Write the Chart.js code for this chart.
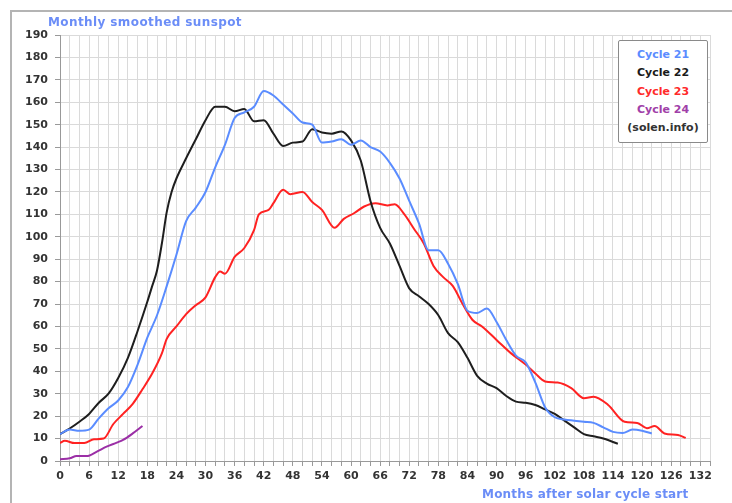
<!DOCTYPE html>
<html>
<head>
<meta charset="utf-8">
<script src="https://cdn.jsdelivr.net/npm/chart.js@4.4.0/dist/chart.umd.min.js"></script>
<style>
  body { margin: 0; background: #fff; }
  #wrap { position: relative; width: 732px; height: 503px; overflow: hidden; }
  #frame { position: absolute; left: 10px; top: 10px; width: 760px; height: 540px;
    border-left: 2px solid #b4b4b4; border-top: 2px solid #b4b4b4; }
  #myChart { position: absolute; left: 0; top: 0; }
  .txt { position: absolute; font-family: "DejaVu Sans", sans-serif; font-weight: bold; white-space: nowrap; }
  #title { left: 48px; top: 15px; font-size: 12px; color: #6b8df7; letter-spacing: 0.4px; }
  #xtitle { left: 482px; top: 487px; font-size: 12px; color: #6b8df7; letter-spacing: 0.2px; }
  #legend { position: absolute; left: 618px; top: 40px; width: 90px; height: 103px;
    border: 1px solid #8a8a8a; border-radius: 2px; background: #fff;
    font-family: "DejaVu Sans", sans-serif; font-weight: bold; font-size: 11px;
    text-align: center; padding-top: 5px; box-sizing: border-box; line-height: 18.3px; }
</style>
</head>
<body>
<div id="wrap">
  <div id="frame"></div>
  <canvas id="myChart" width="732" height="503"></canvas>
  <div class="txt" id="title">Monthly smoothed sunspot</div>
  <div class="txt" id="xtitle">Months after solar cycle start</div>
  <div id="legend">
    <div style="color:#5a8cff">Cycle 21</div>
    <div style="color:#1a1a1a">Cycle 22</div>
    <div style="color:#ff2a2a">Cycle 23</div>
    <div style="color:#a040a8">Cycle 24</div>
    <div style="color:#333">(solen.info)</div>
  </div>
</div>
<script>
// months after cycle start / smoothed sunspot number
const months21 = [0, 2, 4, 6, 8, 10, 12, 14, 16, 18, 20, 22, 24, 26, 28, 30, 32, 34, 36, 38, 40, 42, 44, 46, 48, 50, 52, 54, 56, 58, 60, 62, 64, 66, 68, 70, 72, 74, 76, 78, 80, 82, 84, 86, 88, 90, 92, 94, 96, 98, 100, 102, 104, 106, 108, 110, 112, 114, 116, 118, 120, 122];
const cycle21 = [12, 14, 13.5, 14, 19, 23.5, 27, 33, 43, 55, 65, 78, 92, 107, 113, 120, 131, 141, 153, 155.5, 158, 165, 163, 159, 155, 151, 150, 142, 142.5, 143.5, 141, 143, 140, 138, 133, 126, 116, 106, 94, 94, 88, 79, 67, 66, 68, 62, 54, 47, 44, 35, 24, 19.5, 18.5, 18, 17.5, 17, 15, 13, 12.5, 14, 13.5, 12.3];

const months22 = [0, 2, 4, 6, 8, 10, 12, 14, 16, 18, 19, 20, 21, 22, 23, 24, 26, 28, 30, 32, 34, 36, 38, 40, 42, 44, 46, 48, 50, 52, 54, 56, 58, 60, 62, 64, 66, 68, 70, 72, 74, 76, 78, 80, 82, 84, 86, 88, 90, 92, 94, 96, 98, 100, 102, 104, 106, 108, 110, 112, 115];
const cycle22 = [12, 14.5, 17.5, 21, 26, 30, 37, 46, 58, 71, 78, 85, 97, 111, 120, 126, 135, 143.5, 152, 158, 158, 156, 157, 151.5, 152, 146, 140.5, 142, 142.5, 148, 146.5, 146, 147, 143, 134, 116, 104, 97, 87, 77, 73.5, 70, 65, 57, 53, 46, 38, 34.5, 32.5, 29, 26.5, 26, 25, 23, 21, 18, 15, 12, 11, 10, 7.7];

const months23 = [0, 1, 3, 5, 7, 9, 11, 13, 15, 17, 19, 21, 22, 24, 26, 28, 30, 32, 33, 34, 36, 38, 40, 41, 43, 44, 46, 47.5, 50, 52, 54, 56.6, 58.5, 60.6, 62.7, 65, 67.5, 69, 71, 73, 75, 77, 79, 81, 83, 85, 87, 90, 93, 96, 98, 100, 102.6, 105.4, 108, 110, 113, 116.4, 119, 121, 122.6, 124.6, 127.4, 129];
const cycle23 = [8, 9, 8, 8, 9.7, 10, 16.5, 21, 25.5, 32, 39, 48, 54.5, 60, 65.5, 69.5, 73, 82, 84.5, 83.5, 91, 95, 103, 110, 112, 115, 121, 119, 120, 115.5, 112, 104, 108, 110.5, 113.5, 115, 114, 114.5, 110, 103.5, 97, 87, 82, 78, 70, 63, 60, 54, 48, 43, 39, 35.5, 35, 32.5, 28, 28.7, 25, 17.5, 17, 14.6, 15.6, 12.3, 11.6, 10.3];

const months24 = [0, 2, 3.4, 5.5, 7.6, 9.6, 11.7, 13, 15, 17];
const cycle24 = [0.8, 1.2, 2.2, 2.2, 4.2, 6.4, 8.2, 9.4, 12.3, 15.6];

const xTickEvery = 6;

const toPoints = (xs, ys) => xs.map((x, i) => ({ x: x, y: ys[i] }));

const series = [
  { label: "Cycle 21", data: toPoints(months21, cycle21), color: "#5a8cff" },
  { label: "Cycle 22", data: toPoints(months22, cycle22), color: "#1e1e1e" },
  { label: "Cycle 23", data: toPoints(months23, cycle23), color: "#ff2222" },
  { label: "Cycle 24", data: toPoints(months24, cycle24), color: "#9b2fa6" },
];

const tickFont = { family: "DejaVu Sans", size: 11, weight: "bold" };

new Chart(document.getElementById("myChart").getContext("2d"), {
  type: "line",
  data: {
    datasets: series.map((s) => ({
      label: s.label,
      data: s.data,
      borderColor: s.color,
      backgroundColor: s.color,
      borderWidth: 2,
      pointRadius: 0,
      cubicInterpolationMode: "monotone",
      fill: false,
    })),
  },
  options: {
    responsive: false,
    animation: false,
    devicePixelRatio: 1,
    layout: { padding: { left: 0, top: 35, right: 22, bottom: 12 } },
    plugins: { legend: { display: false }, tooltip: { enabled: false } },
    scales: {
      x: {
        type: "linear",
        min: 0,
        max: 134,
        afterFit: (scale) => { scale.height = 30; },
        grid: { color: "#dadada", tickLength: 5, tickColor: "#999" },
        border: { color: "#999" },
        ticks: {
          stepSize: 2,
          autoSkip: false,
          maxRotation: 0,
          padding: 4,
          color: "#333",
          font: tickFont,
          callback: (v) => (v % xTickEvery === 0 ? v : ""),
        },
      },
      y: {
        min: 0,
        max: 190,
        afterFit: (scale) => { scale.width = 60; },
        grid: { color: "#dadada", tickLength: 5, tickColor: "#999" },
        border: { color: "#999" },
        ticks: { stepSize: 10, padding: 7, color: "#333", font: tickFont },
      },
    },
  },
});
</script>
</body>
</html>
